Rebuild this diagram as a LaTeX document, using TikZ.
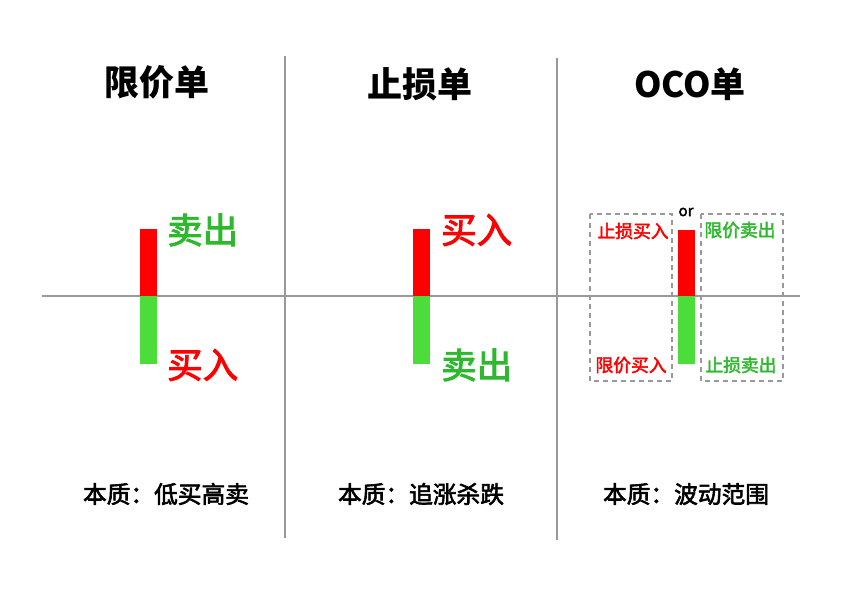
\documentclass[tikz,border=0pt]{standalone}
\usepackage{fontspec}
\setmainfont{Noto Sans CJK SC}
\newfontfamily\cjk{Noto Sans CJK SC}
\newfontfamily\cjkm[FakeBold=2.5]{Noto Sans CJK SC}
\definecolor{axisgray}{HTML}{999999}
\definecolor{barred}{HTML}{FF0000}
\definecolor{bargreen}{HTML}{4CDD3A}
\definecolor{txtgreen}{HTML}{2DB82D}
\definecolor{boxgray}{HTML}{999999}
\tikzset{
  axisline/.style={draw=axisgray, line width=1.6pt},
  title/.style={font=\cjk\bfseries\fontsize{35}{38}\selectfont, inner sep=0pt},
  biglabel/.style={font=\cjkm\fontsize{35.5}{38}\selectfont, inner sep=0pt, anchor=west},
  smalllabel/.style={font=\cjkm\fontsize{17.8}{20}\selectfont, inner sep=0pt},
  essence/.style={font=\cjkm\fontsize{23.7}{26}\selectfont, inner sep=0pt},
  dashbox/.style={draw=boxgray, line width=1.5pt, dash pattern=on 5pt off 4pt},
}
\begin{document}
\begin{tikzpicture}[x=1pt,y=-1pt]
\useasboundingbox[fill=white] (0,0) rectangle (842,596);
% axes
\coordinate (hl) at (42,296);
\coordinate (hr) at (800,296);
\coordinate (v1t) at (285,56);
\coordinate (v1b) at (285,538);
\coordinate (v2t) at (557,58);
\coordinate (v2b) at (557,540);
\draw[axisline] (hl) -- (hr);
\draw[axisline] (v1t) -- (v1b);
\draw[axisline] (v2t) -- (v2b);
% titles
\node[title] (t1) at (157,82) {限价单};
\node[title] (t2) at (420,84) {止损单};
\node[title] (t3) at (690,84) {OCO单};
% bars
\fill[barred] (140,229) rectangle (157,296);
\fill[bargreen] (140,296) rectangle (157,364);
\fill[barred] (413,229) rectangle (430,296);
\fill[bargreen] (413,296) rectangle (430,364);
\fill[barred] (678,230) rectangle (695,296);
\fill[bargreen] (678,296) rectangle (695,364);
% big labels
\node[biglabel, text=txtgreen] (l1a) at (167,230) {卖出};
\node[biglabel, text=barred] (l1b) at (167,365) {买入};
\node[biglabel, text=barred] (l2a) at (441,230) {买入};
\node[biglabel, text=txtgreen] (l2b) at (441,365) {卖出};
% OCO boxes
\draw[dashbox] (590,214) rectangle (672,381);
\draw[dashbox] (701,214) rectangle (783,381);
\node[font=\cjkm\fontsize{15}{16}\selectfont, inner sep=0pt] (or) at (686,212) {or};
\node[smalllabel, text=barred] (o1) at (633,231) {止损买入};
\node[smalllabel, text=txtgreen] (o2) at (740,230) {限价卖出};
\node[smalllabel, text=barred] (o3) at (631,365) {限价买入};
\node[smalllabel, text=txtgreen] (o4) at (741,365) {止损卖出};
% essence
\node[essence] (e1) at (166,494) {本质：低买高卖};
\node[essence] (e2) at (421,494) {本质：追涨杀跌};
\node[essence] (e3) at (686,494) {本质：波动范围};
\end{tikzpicture}
\end{document}
